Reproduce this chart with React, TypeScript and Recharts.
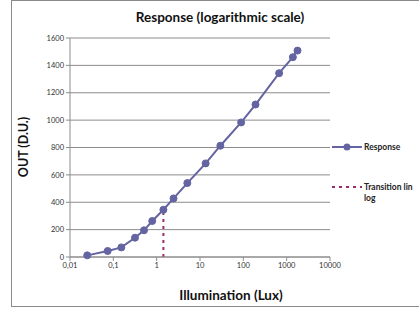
import React from 'react';
import {
  ComposedChart,
  Line,
  XAxis,
  YAxis,
  CartesianGrid,
} from 'recharts';

// illumination (lux) and sensor output (D.U.)
const lux = [0.025, 0.074, 0.153, 0.316, 0.51, 0.79, 1.43, 2.45, 5.1, 13.5, 29.5, 89, 191, 670, 1390, 1780];
const out = [12, 44, 70, 141, 195, 263, 345, 428, 540, 684, 813, 983, 1114, 1343, 1460, 1508];

// vertical dotted line where the response goes from linear to log
const transitionLux = [1.43, 1.43];
const transitionOut = [0, 345];

const xTicks = [0.01, 0.1, 1, 10, 100, 1000, 10000];
const yTicks = [0, 200, 400, 600, 800, 1000, 1200, 1400, 1600];

const seriesNames = ['Response', 'Transition lin', 'log'];

const responseData = lux.map((x, i) => ({ x, y: out[i] }));
const transitionData = transitionLux.map((x, i) => ({ x, y: transitionOut[i] }));

const FONT = 'Lato, "Open Sans", sans-serif';
const LINE_COLOR = '#6464a2';
const DOT_COLOR = '#9b2d6b';

const fmtLux = (v: number) => String(v).replace('.', ',');

const LegendBox = () => (
  <svg
    width={90}
    height={70}
    style={{ position: 'absolute', left: 332, top: 139, overflow: 'visible' }}
  >
    <line x1={0} y1={8} x2={30} y2={8} stroke={LINE_COLOR} strokeWidth={2} />
    <circle cx={15} cy={8} r={3.5} fill={LINE_COLOR} />
    <text x={32} y={11} fontSize={8.5} fontWeight={700} fill="#222" fontFamily={FONT}>
      {seriesNames[0]}
    </text>
    <line x1={0} y1={48} x2={30} y2={48} stroke={DOT_COLOR} strokeWidth={2} strokeDasharray="3 4" />
    <text x={32} y={51} fontSize={8.5} fontWeight={700} fill="#222" fontFamily={FONT}>
      {seriesNames[1]}
    </text>
    <text x={32} y={62} fontSize={8.5} fontWeight={700} fill="#222" fontFamily={FONT}>
      {seriesNames[2]}
    </text>
  </svg>
);

export default function App() {
  return (
    <div
      style={{
        position: 'absolute',
        left: 0,
        top: 0,
        width: 419,
        height: 311,
        overflow: 'hidden',
        background: '#fff',
        fontFamily: FONT,
      }}
    >
      <div
        style={{
          position: 'absolute',
          left: 11,
          top: 0,
          width: 420,
          height: 305,
          border: '1px solid #8a8a8a',
        }}
      />
      <ComposedChart
        width={419}
        height={311}
        margin={{ top: 38, right: 89, bottom: 34, left: 30 }}
        style={{ position: 'absolute', left: 0, top: 0 }}
      >
        <text x={220} y={22} textAnchor="middle" fontSize={13.5} fontWeight={700} fill="#111" fontFamily={FONT}>
          Response (logarithmic scale)
        </text>
        <text
          x={28}
          y={147}
          textAnchor="middle"
          fontSize={12.5}
          fontWeight={700}
          fill="#111"
          fontFamily={FONT}
          transform="rotate(-90 28 147)"
        >
          OUT (D.U.)
        </text>
        <text x={231} y={300} textAnchor="middle" fontSize={13.5} fontWeight={700} fill="#111" fontFamily={FONT}>
          Illumination (Lux)
        </text>
        <CartesianGrid vertical={false} stroke="#8c8c8c" />
        <XAxis
          dataKey="x"
          type="number"
          scale="log"
          domain={[0.01, 10000]}
          ticks={xTicks}
          tickFormatter={fmtLux}
          allowDataOverflow
          height={20}
          stroke="#8c8c8c"
          tickSize={4}
          tick={{ fontSize: 7.5, fill: '#333', fontFamily: FONT }}
        />
        <YAxis
          dataKey="y"
          type="number"
          domain={[0, 1600]}
          ticks={yTicks}
          width={40}
          stroke="#8c8c8c"
          tickSize={4}
          tick={{ fontSize: 7.5, fill: '#333', fontFamily: FONT }}
        />
        <Line
          data={transitionData}
          dataKey="y"
          stroke={DOT_COLOR}
          strokeWidth={2}
          strokeDasharray="3 4"
          dot={false}
          isAnimationActive={false}
        />
        <Line
          data={responseData}
          dataKey="y"
          stroke={LINE_COLOR}
          strokeWidth={2}
          dot={{ r: 3.5, fill: LINE_COLOR, stroke: LINE_COLOR, strokeWidth: 1 }}
          isAnimationActive={false}
        />
      </ComposedChart>
      <LegendBox />
    </div>
  );
}
